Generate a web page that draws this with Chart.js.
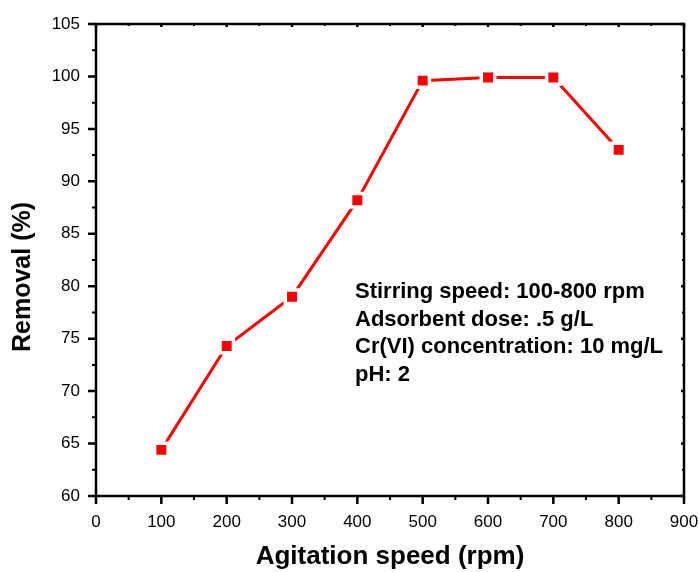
<!DOCTYPE html>
<html>
<head>
<meta charset="utf-8">
<script src="https://cdn.jsdelivr.net/npm/chart.js@4/dist/chart.umd.min.js"></script>
<style>
  html, body { margin: 0; padding: 0; background: #fff; }
  #wrap { width: 699px; height: 572px; }
</style>
</head>
<body>
<div id="wrap"><canvas id="chart" width="699" height="572"></canvas></div>
<script>
const speeds = [100, 200, 300, 400, 500, 600, 700, 800];
const removal = [64.4, 74.3, 79.0, 88.2, 99.6, 99.9, 99.9, 93.0];
const xTicks = [0, 100, 200, 300, 400, 500, 600, 700, 800, 900];
const yTicks = [60, 65, 70, 75, 80, 85, 90, 95, 100, 105];
const xTitle = 'Agitation speed (rpm)';
const yTitle = 'Removal (%)';
const noteLines = [
  'Stirring speed: 100-800 rpm',
  'Adsorbent dose: .5 g/L',
  'Cr(VI) concentration: 10 mg/L',
  'pH: 2'
];

const FONT = 'Arial, "Liberation Sans", sans-serif';

// frame, minor ticks, axis titles and the note text
const framePlugin = {
  id: 'frame',
  afterDraw(chart) {
    const { ctx, chartArea: a, scales } = chart;
    const x = scales.x, y = scales.y;
    ctx.save();
    ctx.strokeStyle = '#000';
    ctx.lineWidth = 2.5;
    ctx.lineCap = 'square';
    ctx.beginPath();
    ctx.moveTo(a.left, a.bottom);
    ctx.lineTo(a.left, a.top);
    ctx.lineTo(a.right, a.top);
    ctx.lineTo(a.right, a.bottom);
    ctx.lineTo(a.left, a.bottom);
    ctx.stroke();

    ctx.lineCap = 'butt';
    for (let v = 0; v <= 900; v += 50) {
      const px = x.getPixelForValue(v);
      const major = v % 100 === 0;
      ctx.lineWidth = major ? 2.5 : 2;
      ctx.beginPath();
      ctx.moveTo(px, a.bottom);
      ctx.lineTo(px, a.bottom + (major ? 8 : 4));
      ctx.moveTo(px, a.top);
      ctx.lineTo(px, a.top + (major ? 3 : 2));
      ctx.stroke();
    }
    for (let v = 60; v <= 105; v += 2.5) {
      const py = y.getPixelForValue(v);
      const major = v % 5 === 0;
      ctx.lineWidth = major ? 2.5 : 2;
      ctx.beginPath();
      ctx.moveTo(a.left, py);
      ctx.lineTo(a.left - (major ? 8 : 4), py);
      ctx.moveTo(a.right, py);
      ctx.lineTo(a.right - (major ? 3 : 2), py);
      ctx.stroke();
    }

    ctx.fillStyle = '#000';
    ctx.textBaseline = 'middle';
    ctx.textAlign = 'center';
    ctx.font = 'bold 26px ' + FONT;
    ctx.fillText(xTitle, (a.left + a.right) / 2, 557);
    ctx.save();
    ctx.translate(23, 277);
    ctx.rotate(-Math.PI / 2);
    ctx.font = 'bold 25px ' + FONT;
    ctx.fillText(yTitle, 0, 0);
    ctx.restore();

    ctx.font = 'bold 22px ' + FONT;
    ctx.textAlign = 'left';
    noteLines.forEach((t, i) => {
      ctx.fillText(t, a.left + 259, a.top + 268 + i * 27.5);
    });
    ctx.restore();
  }
};

new Chart(document.getElementById('chart'), {
  type: 'line',
  data: {
    labels: speeds,
    datasets: [{
      data: speeds.map((s, i) => ({ x: s, y: removal[i] })),
      borderColor: '#ff0000',
      borderWidth: 3,
      pointStyle: 'rect',
      pointRadius: 9.5,
      pointBackgroundColor: '#ff0000',
      pointBorderColor: '#ffffff',
      pointBorderWidth: 3.5,
      tension: 0
    }]
  },
  options: {
    responsive: false,
    animation: false,
    layout: { padding: { top: 24, right: 15, left: 0, bottom: 0 } },
    plugins: { legend: { display: false }, tooltip: { enabled: false } },
    scales: {
      x: {
        type: 'linear',
        min: 0, max: 900,
        afterBuildTicks: (s) => { s.ticks = xTicks.map(v => ({ value: v })); },
        afterFit: (s) => { s.height = 76; s.paddingLeft = 0; s.paddingRight = 0; },
        grid: { display: false, drawOnChartArea: false, drawTicks: false },
        border: { display: false },
        ticks: { color: '#000', padding: 16, font: { family: FONT, size: 17 } }
      },
      y: {
        type: 'linear',
        min: 60, max: 105,
        afterBuildTicks: (s) => { s.ticks = yTicks.map(v => ({ value: v })); },
        afterFit: (s) => { s.width = 96; s.paddingTop = 0; s.paddingBottom = 0; },
        grid: { display: false, drawOnChartArea: false, drawTicks: false },
        border: { display: false },
        ticks: { color: '#000', padding: 16, font: { family: FONT, size: 17 } }
      }
    }
  },
  plugins: [framePlugin]
});
</script>
</body>
</html>
